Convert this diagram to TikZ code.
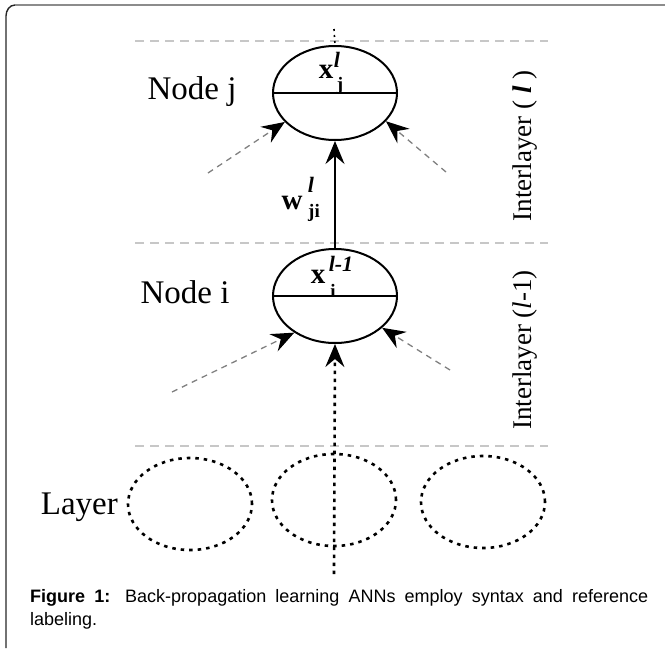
\documentclass[tikz,border=0pt]{standalone}
\usepackage{fontspec}
\setmainfont{Liberation Serif}
\newfontfamily\capfont{Liberation Sans}
\usetikzlibrary{shapes.geometric,arrows.meta}

\tikzset{
  neuron/.style={ellipse,draw,line width=2pt,minimum width=124pt,minimum height=94pt,inner sep=0pt},
  ghost/.style={ellipse,draw,line width=2.6pt,dash pattern=on 3.5pt off 5pt,minimum width=124pt,minimum height=92pt,inner sep=0pt},
  sepline/.style={draw=black!22,line width=1.2pt,dash pattern=on 9pt off 6pt},
  headtip/.style={-{Stealth[length=23pt,width=19pt,inset=8pt,black]}},
  feed/.style={headtip,draw=black!50,line width=1.3pt,dash pattern=on 6pt off 5pt},
  weight/.style={headtip,line width=1.8pt},
  input/.style={headtip,line width=2.6pt,dash pattern=on 3.5pt off 4.5pt},
  lbl/.style={font=\fontsize{33}{35}\selectfont,inner sep=0pt},
  side/.style={font=\fontsize{27}{29}\selectfont,rotate=90},
  base/.style={font=\bfseries\fontsize{29}{30}\selectfont,inner sep=0pt},
  sup/.style={font=\bfseries\itshape\fontsize{22}{24}\selectfont,inner sep=0pt},
  sub/.style={font=\bfseries\fontsize{19}{20}\selectfont,inner sep=0pt}
}

\begin{document}
\begin{tikzpicture}[x=1pt,y=-1pt]
\useasboundingbox (0,0) rectangle (665,651);

% outer frame
\draw[line width=1.4pt,black!85] (6,648) -- (6,16) to[out=90,in=180] (15,5);
\draw[line width=2.8pt,black!45] (15,5) -- (665,5);

% layer separators
\draw[sepline] (135,41) -- (548,41);
\draw[sepline] (135,243) -- (548,243);
\draw[sepline] (135,446) -- (548,446);

% neurons
\node[neuron] (nj) at (335,93) {};
\node[neuron] (ni) at (335,296) {};
\draw[line width=1.6pt] (nj.west) -- (nj.east);
\draw[line width=1.6pt] (ni.west) -- (ni.east);

% previous layer
\node[ghost] (la) at (190,504) {};
\node[ghost] (lb) at (334,500) {};
\node[ghost] (lc) at (483,502) {};

% node contents: activations and weight
\node[base] (xj) at (326,72) {x};
\node[sup] (xjs) at (337,60) {l};
\node[sub] (xjb) at (340,86) {j};

\node[base] (xi) at (318,277) {x};
\node[sup] (xis) at (341,264) {l-1};
\node[sub] (xib) at (333,291) {i};

\node[base] (w) at (292,203) {w};
\node[sup] (ws) at (311,185) {l};
\node[sub] (wb) at (314,213) {ji};

% labels
\node[lbl] (tnj) at (192,92) {Node j};
\node[lbl] (tni) at (185,292) {Node i};
\node[lbl,anchor=east] (tly) at (118,507) {Layer};
\node[side] (il) at (525,146) {Interlayer ( \textbf{\textit{l}} )};
\node[side] (il1) at (525,350) {Interlayer (\textit{l}-1)};

% connectors
\coordinate (topend) at (334,29);
\coordinate (j1) at (208,173);
\coordinate (j2) at (446,172);
\coordinate (i1) at (172,392);
\coordinate (i2) at (450,370);
\coordinate (inp) at (334,574);

\draw[line width=1.6pt,dash pattern=on 2pt off 4pt] (topend) -- (nj.north);
\draw[feed] (j1) -- (nj.210);
\draw[feed] (j2) -- (nj.331);
\draw[weight] (ni.north) -- (nj.south);
\draw[feed] (i1) -- (ni.222);
\draw[feed] (i2) -- (ni.326);
\draw[input] (inp) -- (ni.south);

% caption
\node[anchor=north west,inner sep=0pt,text width=618pt,align=justify,
      font=\capfont\fontsize{18}{23}\selectfont] (cap) at (30,589)
  {\textbf{Figure 1:} Back-propagation learning ANNs employ syntax and reference \mbox{labeling.}};
\end{tikzpicture}
\end{document}
